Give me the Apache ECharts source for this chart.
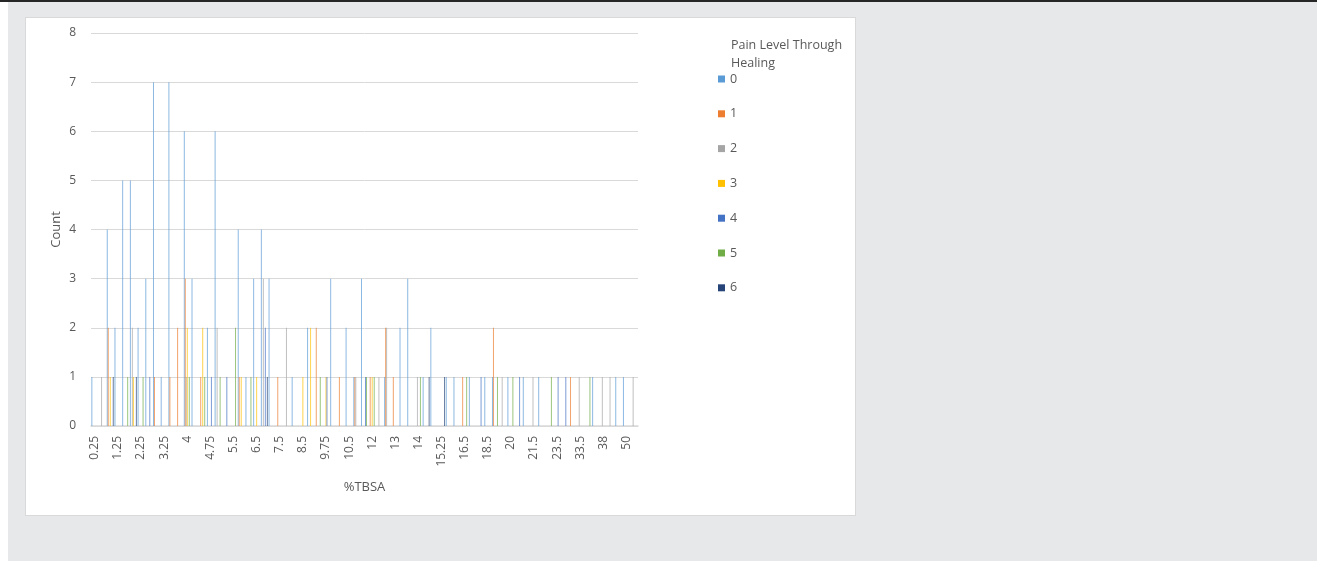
<!DOCTYPE html>
<html style="height: 100%">
<head>
    <meta charset="utf-8">
    <script src="https://cdn.jsdelivr.net/npm/echarts@6/dist/echarts.min.js"></script>
    <style>
        body { margin: 0; height: 100%; background: #fff; font-family: 'Open Sans', sans-serif; }
        #topbar { position: absolute; left: 0; top: 0; width: 1317px; height: 2px; background: #262626; }
        #bg { position: absolute; left: 8px; top: 2px; width: 1309px; height: 559px; background: #e7e8ea; }
        #panel { position: absolute; left: 25px; top: 17px; width: 829px; height: 497px; background: #fff; border: 1px solid #d9d9d9; }
        #main { position: absolute; left: 0; top: 0; width: 1317px; height: 561px; }
    </style>
</head>
<body>
    <div id="topbar"></div>
    <div id="bg"></div>
    <div id="panel"></div>
    <div id="main"></div>
    <script type="text/javascript">

        // %TBSA categories (labels shown on every 3rd one)
        var tbsa = ['0.25','0.5','1','1.25','1.5','2','2.25','2.5','3','3.25',
                    '3.5','3.75','4','4.25','4.5','4.75','5','5.25','5.5','6',
                    '6.25','6.5','7','7.25','7.5','8','8.25','8.5','9','9.5',
                    '9.75','10','10.25','10.5','11','11.5','12','12.5','12.75','13',
                    '13.5','13.75','14','14.5','15','15.25','15.5','16','16.5','17',
                    '18','18.5','19','19.5','20','20.5','21','21.5','22','23',
                    '23.5','25','30','33.5','35','36','38','40','45','50',
                    '60'];

        var painLevels = ['0', '1', '2', '3', '4', '5', '6'];
        var colors = ['#5B9BD5', '#ED7D31', '#A5A5A5', '#FFC000', '#4472C4', '#70AD47', '#264478'];

        // counts per pain level
        var pain0 = [1,0,4,2,5,5,2,3,7,1, 7,0,6,3,0,2,6,0,0,4, 1,3,4,3,0,0,1,0,2,0,
                     0,3,0,2,1,3,0,0,1,0, 2,3,0,1,2,0,1,1,0,1, 0,1,1,0,1,0,1,0,1,0,
                     0,0,0,0,0,1,0,0,1,1, 0];
        var pain1 = [0,0,2,0,0,0,0,0,1,0, 1,2,3,0,1,0,0,0,0,1, 0,0,0,0,1,0,0,0,0,2,
                     0,0,1,0,1,0,1,0,2,1, 0,0,0,0,0,0,0,0,1,0, 0,0,2,0,0,0,0,0,0,0,
                     0,0,1,0,0,0,0,0,0,0, 0];
        var pain2 = [0,1,0,0,0,2,0,0,0,0, 0,0,1,0,0,0,2,0,0,0, 0,0,3,0,0,2,0,0,0,0,
                     0,0,0,0,1,0,0,1,2,0, 0,0,1,0,0,0,0,0,0,0, 0,0,0,1,0,0,0,1,0,0,
                     0,0,0,1,0,0,1,1,0,0, 1];
        var pain3 = [0,0,1,0,0,1,0,0,0,0, 0,0,2,0,2,0,0,0,0,1, 0,1,0,0,0,0,0,1,2,0,
                     1,0,0,0,0,0,1,0,0,0, 0,0,0,0,0,0,0,0,0,0, 0,0,0,0,0,0,0,0,0,0,
                     0,0,0,0,0,0,0,0,0,0, 0];
        var pain4 = [0,0,0,0,0,0,0,1,0,0, 0,0,0,0,0,1,0,1,0,0, 0,0,2,0,0,0,0,0,0,0,
                     1,0,0,0,0,1,0,0,0,0, 0,0,0,0,0,0,0,0,0,0, 1,0,0,0,0,1,0,0,0,0,
                     1,1,0,0,0,0,0,0,0,0, 0];
        var pain5 = [0,0,0,0,1,0,1,0,0,0, 0,0,1,0,1,0,1,0,2,0, 1,0,0,0,0,0,0,0,0,1,
                     0,0,0,0,0,1,1,0,0,0, 0,0,1,0,0,0,0,0,1,0, 0,0,1,0,1,0,0,0,0,1,
                     0,0,0,0,1,0,0,0,0,0, 0];
        var pain6 = [0,0,1,0,0,1,0,0,0,0, 0,0,0,0,0,0,0,0,0,0, 0,0,1,0,0,0,0,0,0,0,
                     0,0,0,0,0,0,0,0,0,0, 0,0,0,1,0,1,0,0,0,0, 0,0,0,0,0,0,0,0,0,0,
                     0,0,0,0,0,0,0,0,0,0, 0];
        var counts = [pain0, pain1, pain2, pain3, pain4, pain5, pain6];

        var textColor = '#595959';
        var font = "'Open Sans', sans-serif";

        var myChart = echarts.init(document.getElementById('main'));

        // thin bars in the original look washed out, so soften them a bit
        var series = painLevels.map(function (name, i) {
            return {
                name: name,
                type: 'bar',
                data: counts[i],
                barGap: '0%',
                barCategoryGap: '10%',
                itemStyle: { color: colors[i], opacity: 0.7 }
            };
        });

        option = {
            animation: false,
            color: colors,
            textStyle: { fontFamily: font },
            title: {
                text: 'Pain Level Through\nHealing',
                left: 726,
                top: 31,
                textStyle: { fontSize: 12.5, fontWeight: 'normal', color: textColor, lineHeight: 18, fontFamily: font }
            },
            legend: {
                data: painLevels,
                orient: 'vertical',
                left: 713,
                top: 67,
                icon: 'rect',
                itemWidth: 7,
                itemHeight: 7,
                itemGap: 20.8,
                itemStyle: { opacity: 1 },
                textStyle: { fontSize: 12.5, color: textColor, lineHeight: 14, fontFamily: font }
            },
            grid: {
                left: 91,
                top: 33,
                width: 547,
                height: 393,
                containLabel: false
            },
            xAxis: {
                type: 'category',
                data: tbsa,
                name: '%TBSA',
                nameLocation: 'middle',
                nameGap: 55,
                nameTextStyle: { fontSize: 13, color: textColor, fontFamily: font },
                axisTick: { show: false },
                axisLine: { lineStyle: { color: '#d9d9d9', width: 1.5 } },
                axisLabel: { interval: 2, rotate: 90, margin: 10, fontSize: 12, color: textColor, fontFamily: font }
            },
            yAxis: {
                type: 'value',
                min: 0,
                max: 8,
                interval: 1,
                name: 'Count',
                nameLocation: 'middle',
                nameGap: 28,
                nameTextStyle: { fontSize: 13, color: textColor, fontFamily: font },
                axisLine: { show: false },
                axisTick: { show: false },
                splitLine: { lineStyle: { color: '#d9d9d9', width: 1 } },
                axisLabel: { margin: 15, fontSize: 12, color: textColor, fontFamily: font }
            },
            series: series
        };
        myChart.setOption(option);
    </script>
</body>
</html>
